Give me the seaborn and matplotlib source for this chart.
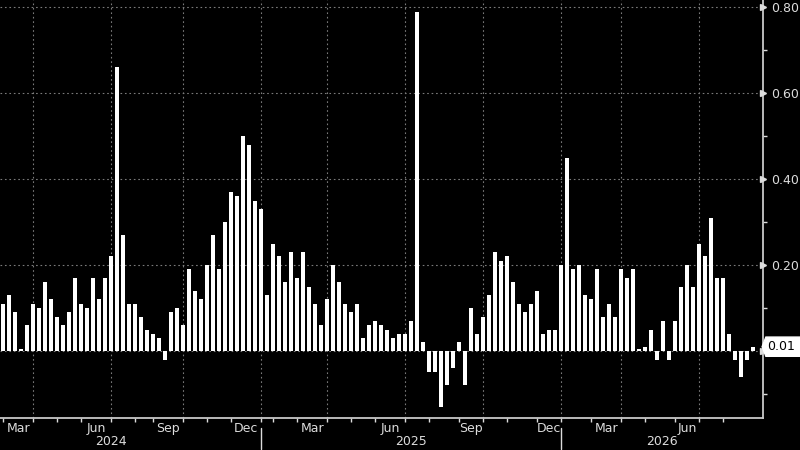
import numpy as np
import matplotlib
matplotlib.use("Agg")
import matplotlib.pyplot as plt
import matplotlib.transforms as mtransforms
from matplotlib.path import Path
import seaborn as sns

# weekly bar values (Mar 2024 -> Aug 2026)
values = [
    0.11, 0.13, 0.09, 0.004, 0.06, 0.11, 0.10, 0.16, 0.12, 0.08,
    0.06, 0.09, 0.17, 0.11, 0.10, 0.17, 0.12, 0.17, 0.22, 0.66,
    0.27, 0.11, 0.11, 0.08, 0.05, 0.04, 0.03, -0.02, 0.09, 0.10,
    0.06, 0.19, 0.14, 0.12, 0.20, 0.27, 0.19, 0.30, 0.37, 0.36,
    0.50, 0.48, 0.35, 0.33, 0.13, 0.25, 0.22, 0.16, 0.23, 0.17,
    0.23, 0.15, 0.11, 0.06, 0.12, 0.20, 0.16, 0.11, 0.09, 0.11,
    0.03, 0.06, 0.07, 0.06, 0.05, 0.03, 0.04, 0.04, 0.07, 0.79,
    0.02, -0.05, -0.05, -0.13, -0.08, -0.04, 0.02, -0.08, 0.10, 0.04,
    0.08, 0.13, 0.23, 0.21, 0.22, 0.16, 0.11, 0.09, 0.11, 0.14,
    0.04, 0.05, 0.05, 0.20, 0.45, 0.19, 0.20, 0.13, 0.12, 0.19,
    0.08, 0.11, 0.08, 0.19, 0.17, 0.19, 0.004, 0.01, 0.05, -0.02,
    0.07, -0.02, 0.07, 0.15, 0.20, 0.15, 0.25, 0.22, 0.31, 0.17,
    0.17, 0.04, -0.02, -0.06, -0.02, 0.01,
]

# first bar of each month (bar index) and the month names
month_start = [0, 5, 9, 13, 18, 22, 25, 30, 34, 38,
               43, 45, 49, 54, 58, 62, 67, 71, 76, 80, 84, 89,
               93, 98, 103, 107, 112, 116, 120]
month_name = ["Mar", "Apr", "May", "Jun", "Jul", "Aug", "Sep", "Oct", "Nov", "Dec",
              "Jan", "Feb", "Mar", "Apr", "May", "Jun", "Jul", "Aug", "Sep", "Oct", "Nov", "Dec",
              "Jan", "Mar", "Apr", "May", "Jun", "Jul", "Aug"]
shown_months = ["Mar", "Jun", "Sep", "Dec"]
grid_months = ["Jan", "Apr", "Jul", "Oct"]

years = ["2024", "2025", "2026"]
year_bounds = [-7, 43, 93, 126.6]   # Jan 2024 sits off the left edge

y_major = [0.0, 0.2, 0.4, 0.6, 0.8]
y_minor = [-0.1, 0.1, 0.3, 0.5, 0.7]

fg = "#dcdcdc"
grid_col = "#7a7a7a"
fsize = 9

sns.set_theme(style="dark", rc={"axes.facecolor": "black", "figure.facecolor": "black"})
plt.rcParams["font.family"] = ["DejaVu Sans"]

fig = plt.figure(figsize=(8, 4.5), dpi=100)
ax = fig.add_axes([0.0, 32 / 450, 762.7 / 800, 418 / 450])

n = len(values)
sns.barplot(x=np.arange(n), y=values, color="white", saturation=1, width=0.62,
            linewidth=0, errorbar=None, ax=ax, zorder=3)

ax.set_xlim(-0.55, 126.57)
ax.set_ylim(-0.156, 0.817)

# horizontal grid; the 0.00 label is hidden under the last-value tag
ax.set_axisbelow(True)
ax.yaxis.tick_right()
ax.set_yticks(y_major)
ax.set_yticklabels(["" if v == 0 else f"{v:.2f}" for v in y_major])
ax.set_yticks(y_minor, minor=True)
ax.yaxis.grid(True, which="major", linestyle=(0, (1.5, 2.5)), color=grid_col, linewidth=0.8)
ax.tick_params(axis="y", which="major", right=True, length=0, pad=6, labelsize=fsize, labelcolor=fg)
ax.tick_params(axis="y", which="minor", right=True, length=3, width=1, color=fg)

# little arrow heads on the major y ticks
yblend = mtransforms.blended_transform_factory(ax.transAxes, ax.transData)
ax.plot([1.0] * len(y_major), y_major, ls="none", marker=">", ms=4.5, color=fg,
        transform=yblend, clip_on=False, zorder=4)

# vertical grid at quarter starts
for idx, name in zip(month_start, month_name):
    if name in grid_months:
        ax.axvline(idx, linestyle=(0, (1.5, 2.5)), color=grid_col, linewidth=0.8, zorder=1)

# month ticks and labels
ax.set_xticks(month_start)
ax.set_xticklabels([])
label_pos, label_txt = [], []
ends = month_start[1:] + [126.6]
for s, e, name in zip(month_start, ends, month_name):
    if name in shown_months:
        label_pos.append((s + e) / 2)
        label_txt.append(name)
ax.set_xticks(label_pos, minor=True)
ax.set_xticklabels(label_txt, minor=True)
ax.tick_params(axis="x", which="major", bottom=True, length=3, width=1, color=fg)
ax.tick_params(axis="x", which="minor", bottom=True, length=0, pad=3, labelsize=fsize, labelcolor=fg)
ax.set_xlabel("")

# year labels and separators
xblend = mtransforms.blended_transform_factory(ax.transData, ax.transAxes)
for yr, a, b in zip(years, year_bounds[:-1], year_bounds[1:]):
    ax.text((a + b) / 2, -0.056, yr, transform=xblend, ha="center", va="center",
            fontsize=fsize, color=fg, clip_on=False)
for b in year_bounds[1:-1]:
    ax.plot([b, b], [-0.024, -0.075], transform=xblend, color=fg, lw=1, clip_on=False)

for side in ["left", "top"]:
    ax.spines[side].set_visible(False)
for side in ["right", "bottom"]:
    ax.spines[side].set_visible(True)
    ax.spines[side].set_color("#c8c8c8")
    ax.spines[side].set_linewidth(1.3)


# tag shaped box for the last value
def tag_box(x0, y0, width, height, mutation_size):
    pad = 0.25 * mutation_size
    pad_l = 0.08 * mutation_size
    left = x0 - pad_l
    right = x0 + width + 3 * pad
    bottom, top = y0 - pad, y0 + height + pad
    tip = 0.3 * mutation_size
    verts = [(left, bottom), (right, bottom), (right, top), (left, top),
             (left - tip, (bottom + top) / 2), (left, bottom)]
    return Path(verts, closed=True)


last = values[-1]
ax.annotate(f"{last:.2f}", xy=(1.0, last), xycoords=yblend, xytext=(3, 0),
            textcoords="offset points", ha="left", va="center", fontsize=fsize,
            color="black", bbox=dict(boxstyle=tag_box, fc="white", ec="white"),
            annotation_clip=False, zorder=6)

fig.savefig("out.png", dpi=100, facecolor="black")
